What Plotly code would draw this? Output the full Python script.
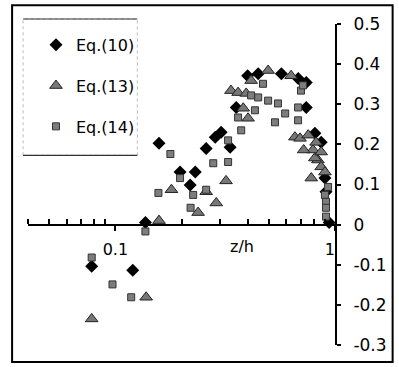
import plotly.graph_objects as go

# Eq.(10) - diamonds
x10 = [0.078, 0.12, 0.137, 0.158, 0.197, 0.231, 0.219, 0.259, 0.285, 0.303, 0.333, 0.355,
       0.40, 0.447, 0.57, 0.68, 0.74, 0.74, 0.81, 0.865, 0.90, 0.91, 0.94]
y10 = [-0.104, -0.114, 0.005, 0.203, 0.131, 0.131, 0.099, 0.19, 0.218, 0.23, 0.193, 0.292,
       0.371, 0.376, 0.376, 0.364, 0.354, 0.292, 0.228, 0.205, 0.116, 0.082, 0.005]

# Eq.(13) - triangles
x13 = [0.078, 0.138, 0.158, 0.18, 0.238, 0.259, 0.288, 0.319, 0.336, 0.362, 0.394, 0.382,
       0.402, 0.415, 0.496, 0.631, 0.657, 0.693, 0.755, 0.794, 0.82, 0.836, 0.865, 0.90,
       0.78, 0.81, 0.72, 0.865]
y13 = [-0.235, -0.181, 0.010, 0.087, 0.030, 0.082, 0.054, 0.109, 0.334, 0.329, 0.327, 0.290,
       0.265, 0.359, 0.384, 0.371, 0.218, 0.215, 0.223, 0.186, 0.205, 0.161, 0.144, 0.131,
       0.116, 0.166, 0.186, 0.181]

# Eq.(14) - squares
x14 = [0.078, 0.097, 0.118, 0.137, 0.157, 0.178, 0.197, 0.226, 0.22, 0.259, 0.279, 0.326,
       0.326, 0.374, 0.362, 0.415, 0.447, 0.496, 0.55, 0.432, 0.533, 0.593, 0.679, 0.70,
       0.715, 0.679, 0.93, 0.90, 0.91, 0.91, 0.91, 0.47]
y14 = [-0.082, -0.149, -0.181, -0.017, 0.079, 0.176, 0.116, 0.074, 0.042, 0.087, 0.153, 0.156,
       0.210, 0.235, 0.267, 0.322, 0.317, 0.309, 0.302, 0.285, 0.255, 0.277, 0.292, 0.334,
       0.347, 0.26, 0.094, 0.074, 0.057, 0.042, 0.020, 0.351]

names = ["Eq.(10)", "Eq.(13)", "Eq.(14)"]

y_ticks = [0.5, 0.4, 0.3, 0.2, 0.1, 0, -0.1, -0.2, -0.3]
y_labels = ["0.5", "0.4", "0.3", "0.2", "0.1", "0", "-0.1", "-0.2", "-0.3"]
x_ticks = [0.1, 1]
x_labels = ["0.1", "1\u00a0\u00a0"]
x_minor = [0.04, 0.05, 0.06, 0.07, 0.08, 0.09, 0.2, 0.3, 0.4, 0.5, 0.6, 0.7, 0.8, 0.9]

FONT = "DejaVu Sans, Arial, sans-serif"

fig = go.Figure()
fig.add_trace(go.Scatter(x=x10, y=y10, mode="markers", name=names[0], legendgroup="a",
                         marker=dict(symbol="diamond", size=10, color="black",
                                     line=dict(width=0))))
fig.add_trace(go.Scatter(x=x13, y=y13, mode="markers", name=names[1], legendgroup="b",
                         marker=dict(symbol="triangle-up", size=11, color="#777777",
                                     line=dict(width=1, color="#222222"))))
fig.add_trace(go.Scatter(x=x14, y=y14, mode="markers", name=names[2], legendgroup="c",
                         marker=dict(symbol="square", size=7, color="#7d7d7d",
                                     line=dict(width=1, color="#333333"))))

fig.update_layout(
    width=399, height=367,
    margin=dict(l=28, r=62, t=24, b=20),
    paper_bgcolor="white", plot_bgcolor="white",
    font=dict(family=FONT, size=16, color="black"),
    showlegend=True,
    legend=dict(x=0.026, y=0.988, xanchor="left", yanchor="top",
                bgcolor="rgba(0,0,0,0)", borderwidth=0,
                font=dict(size=16, family=FONT),
                tracegroupgap=17, itemsizing="trace"),
    xaxis=dict(type="log", range=[-1.39794, 0], anchor="free", position=0.375,
               showline=True, linecolor="black", linewidth=2,
               showgrid=False, zeroline=False,
               tickmode="array", tickvals=x_ticks, ticktext=x_labels,
               ticks="outside", ticklen=5, tickwidth=1.5, tickcolor="black",
               ticklabelstandoff=5,
               tickfont=dict(size=16, family=FONT),
               minor=dict(tickmode="array", tickvals=x_minor, ticks="inside",
                          ticklen=5, tickwidth=1.5, tickcolor="black", showgrid=False)),
    yaxis=dict(range=[-0.3, 0.5], side="right", anchor="x",
               showline=True, linecolor="black", linewidth=2,
               showgrid=False, zeroline=False,
               tickmode="array", tickvals=y_ticks, ticktext=y_labels,
               ticks="outside", ticklen=4, tickwidth=2, tickcolor="black",
               ticklabelstandoff=9,
               tickfont=dict(size=17, family=FONT)),
    shapes=[
        # outer frame
        dict(type="rect", xref="paper", yref="paper", x0=-0.0518, x1=1.1877,
             y0=-0.0526, y1=1.0588, line=dict(color="black", width=2)),
        # legend box
        dict(type="rect", xref="paper", yref="paper", x0=-0.016, x1=0.356,
             y0=0.591, y1=1.0155, line=dict(color="#bbbbbb", width=1, dash="dot")),
        dict(type="line", xref="paper", yref="paper", x0=-0.016, x1=0.356,
             y0=1.0155, y1=1.0155, line=dict(color="#333333", width=1.2)),
        dict(type="line", xref="paper", yref="paper", x0=-0.016, x1=0.356,
             y0=0.591, y1=0.591, line=dict(color="#333333", width=1.2)),
    ],
    annotations=[
        dict(text="z/h", xref="paper", yref="paper", x=0.696, y=0.3065,
             showarrow=False, font=dict(size=16, family=FONT), xanchor="center",
             yanchor="middle"),
    ],
)

fig.write_html("out.html", config={"displayModeBar": False})

# remove the default page margin so the figure sits at the window's origin
with open("out.html", "r", encoding="utf-8") as f:
    html = f.read()
html = html.replace("<head>", "<head><style>html,body{margin:0;padding:0;overflow:hidden;}</style>", 1)
with open("out.html", "w", encoding="utf-8") as f:
    f.write(html)
